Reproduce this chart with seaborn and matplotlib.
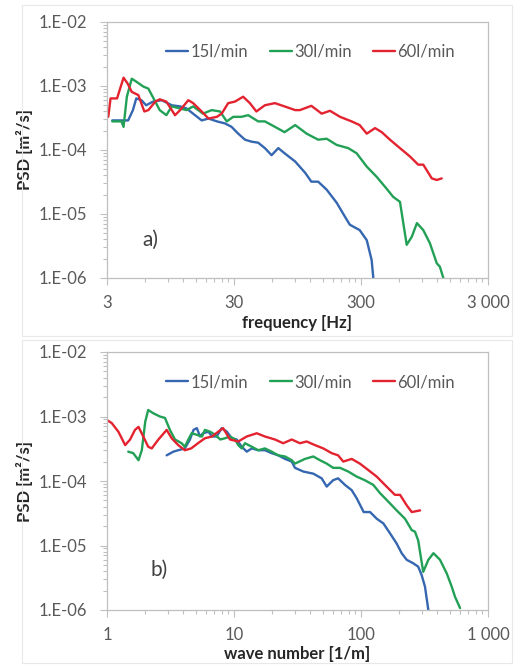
import numpy as np
import pandas as pd
import matplotlib
matplotlib.use("Agg")
import matplotlib.pyplot as plt
import matplotlib.ticker as mticker
from matplotlib.patches import Rectangle
import seaborn as sns

sns.set_theme(style="white")
plt.rcParams['font.family'] = ['Lato', 'DejaVu Sans']

# --------------------------- data ---------------------------
series = ["15l/min", "30l/min", "60l/min"]
colors = {"15l/min": "#3567B0", "30l/min": "#22A156", "60l/min": "#E3232F"}

# panel a) frequency [Hz]
f_a_15 = [3.3, 4.4, 4.8, 5.1, 5.6, 6.1, 6.9, 8.1, 9.7, 11.3, 12.7, 14.8, 16.7, 18.9, 22, 25.5, 28.7, 32.4,
          36.6, 41.2, 46.5, 52.5, 59.3, 67, 75, 91, 109, 122, 138, 161, 193, 224, 245, 293, 333, 364, 375]
psd_a_15 = [2.9e-4, 2.9e-4, 4.2e-4, 6.4e-4, 6.0e-4, 5.0e-4, 5.7e-4, 6.0e-4, 5.0e-4, 4.8e-4, 4.45e-4, 3.5e-4,
            2.9e-4, 3.1e-4, 2.8e-4, 2.6e-4, 2.3e-4, 1.8e-4, 1.45e-4, 1.35e-4, 1.3e-4, 1.07e-4, 8.3e-5, 1.07e-4,
            8.9e-5, 6.6e-5, 4.4e-5, 3.2e-5, 3.2e-5, 2.4e-5, 1.5e-5, 9.1e-6, 6.8e-6, 5.6e-6, 3.9e-6, 1.9e-6, 1.0e-6]

f_a_30 = [3.3, 3.9, 4.05, 4.3, 4.7, 5.1, 5.8, 6.35, 7.2, 7.8, 8.8, 9.7, 11.3, 12.7, 14.3, 17.1, 20, 23.3, 26.3,
          29.6, 34.4, 38.8, 46.5, 52.5, 63, 75, 91, 112, 138, 161, 193, 238, 277, 333, 399, 476, 538, 608, 687,
          753, 827, 928, 1046, 1185, 1254, 1335]
psd_a_30 = [2.8e-4, 2.8e-4, 2.3e-4, 6.8e-4, 1.3e-3, 1.17e-3, 9.8e-4, 9.1e-4, 5.7e-4, 4.2e-4, 3.5e-4, 4.8e-4,
            4.45e-4, 4.2e-4, 4.8e-4, 3.7e-4, 4.2e-4, 4.0e-4, 2.8e-4, 3.3e-4, 3.3e-4, 3.5e-4, 2.8e-4, 2.8e-4,
            2.3e-4, 1.9e-4, 2.45e-4, 1.8e-4, 1.45e-4, 1.5e-4, 1.2e-4, 1.07e-4, 8.9e-5, 5.5e-5, 3.8e-5, 2.5e-5,
            1.85e-5, 1.55e-5, 3.3e-6, 4.4e-6, 7.2e-6, 5.6e-6, 3.5e-6, 1.7e-6, 1.5e-6, 1.0e-6]

f_a_60 = [3.07, 3.2, 3.6, 4.05, 4.35, 4.7, 5.3, 5.9, 6.35, 7.2, 7.8, 8.8, 10.3, 11.3, 13.1, 14.3, 16.7, 18.9, 22,
          24, 27, 30.5, 35.4, 40, 45, 52.5, 63, 75, 91, 99, 122, 147, 171, 205, 253, 293, 333, 387, 437, 507,
          608, 730, 846, 928, 1083, 1185, 1296]
psd_a_60 = [3.3e-4, 6.4e-4, 6.4e-4, 1.35e-3, 1.1e-3, 8.1e-4, 7.2e-4, 4.0e-4, 4.2e-4, 5.7e-4, 6.2e-4, 5.7e-4,
            3.5e-4, 4.2e-4, 6.0e-4, 5.4e-4, 4.0e-4, 3.1e-4, 3.3e-4, 3.7e-4, 5.4e-4, 5.7e-4, 6.8e-4, 5.4e-4,
            4.0e-4, 5.0e-4, 5.4e-4, 4.8e-4, 4.2e-4, 4.2e-4, 4.9e-4, 3.7e-4, 4.1e-4, 3.3e-4, 2.8e-4, 2.45e-4,
            1.8e-4, 2.2e-4, 1.9e-4, 1.45e-4, 1.07e-4, 7.9e-5, 5.9e-5, 5.9e-5, 3.6e-5, 3.4e-5, 3.6e-5]

# panel b) wave number [1/m]
k_b_15 = [2.95, 3.33, 3.64, 4.1, 4.5, 4.8, 5.1, 5.4, 5.7, 6.3, 6.7, 7.3, 8.0, 8.8, 9.6, 10.5, 11.5, 12.6, 13.8,
          15.5, 17.5, 19.8, 22.3, 25.2, 28.5, 30.2, 35.2, 42.1, 49, 53.7, 60.4, 66, 74.8, 84.5, 92.5, 105, 118,
          133, 150, 169, 191, 209, 229, 258, 282, 300, 319, 339]
psd_b_15 = [2.5e-4, 2.85e-4, 3.0e-4, 3.2e-4, 4.4e-4, 6.2e-4, 6.6e-4, 4.9e-4, 5.5e-4, 5.8e-4, 4.9e-4, 4.9e-4,
            6.6e-4, 5.8e-4, 4.6e-4, 4.4e-4, 3.4e-4, 2.85e-4, 3.2e-4, 3.0e-4, 3.0e-4, 2.7e-4, 2.5e-4, 2.2e-4,
            2.0e-4, 1.6e-4, 1.4e-4, 1.3e-4, 1.1e-4, 8.2e-5, 1.03e-4, 1.1e-4, 8.7e-5, 7.2e-5, 5.4e-5, 3.3e-5,
            3.3e-5, 2.6e-5, 2.2e-5, 1.55e-5, 1.07e-5, 7.6e-6, 6.0e-6, 5.3e-6, 4.7e-6, 3.5e-6, 2.3e-6, 1.0e-6]

k_b_30 = [1.47, 1.61, 1.77, 1.88, 2.0, 2.11, 2.32, 2.61, 2.86, 3.13, 3.43, 3.87, 4.1, 4.37, 4.64, 5.1, 5.6, 5.9,
          6.5, 7.1, 7.8, 8.5, 9.3, 10.2, 10.8, 11.5, 12.2, 13.8, 15.5, 17.5, 19.8, 22.3, 25.2, 28.5, 30.2, 36.2,
          42.1, 47.5, 53.7, 60.4, 68.4, 79.4, 92.5, 107, 125, 141, 159, 191, 222, 251, 266, 282, 309, 339, 372,
          419, 473, 518, 550, 603]
psd_b_30 = [2.85e-4, 2.7e-4, 2.1e-4, 3.0e-4, 8.3e-4, 1.26e-3, 1.12e-3, 1.0e-3, 9.5e-4, 6.2e-4, 4.4e-4, 3.85e-4,
            3.4e-4, 4.4e-4, 5.5e-4, 5.2e-4, 4.9e-4, 6.2e-4, 5.8e-4, 5.2e-4, 4.4e-4, 4.6e-4, 4.9e-4, 4.4e-4,
            3.6e-4, 3.2e-4, 3.85e-4, 3.4e-4, 3.0e-4, 3.2e-4, 2.85e-4, 2.5e-4, 2.4e-4, 2.1e-4, 1.86e-4, 2.2e-4,
            2.4e-4, 2.1e-4, 1.86e-4, 1.6e-4, 1.6e-4, 1.4e-4, 1.17e-4, 1.03e-4, 8.7e-5, 6.5e-5, 5.1e-5, 3.5e-5,
            2.6e-5, 1.73e-5, 1.64e-5, 1.2e-5, 3.9e-6, 6.0e-6, 7.6e-6, 6.0e-6, 3.7e-6, 2.3e-6, 1.6e-6, 1.07e-6]

k_b_60 = [1.0, 1.09, 1.23, 1.39, 1.52, 1.66, 1.77, 1.93, 2.11, 2.25, 2.54, 2.95, 3.23, 3.64, 4.1, 4.6, 5.2, 5.9,
          6.7, 7.5, 8.2, 9.3, 10.8, 12.6, 15.1, 17.5, 21, 24.4, 28.5, 33, 37.3, 43.4, 50.5, 58.8, 66, 72.5, 84.5,
          98, 114, 133, 159, 185, 203, 229, 251, 292]
psd_b_60 = [8.8e-4, 7.9e-4, 5.8e-4, 3.6e-4, 4.4e-4, 6.2e-4, 6.9e-4, 4.9e-4, 3.4e-4, 3.2e-4, 4.4e-4, 6.2e-4,
            4.6e-4, 3.6e-4, 3.0e-4, 3.2e-4, 3.85e-4, 4.6e-4, 4.9e-4, 5.8e-4, 6.6e-4, 4.4e-4, 4.1e-4, 4.9e-4,
            5.5e-4, 4.9e-4, 4.4e-4, 3.85e-4, 4.4e-4, 3.85e-4, 4.1e-4, 3.6e-4, 3.2e-4, 2.7e-4, 2.5e-4, 2.0e-4,
            2.2e-4, 1.86e-4, 1.48e-4, 1.17e-4, 8.2e-5, 6.1e-5, 6.1e-5, 4.2e-5, 3.3e-5, 3.5e-5]

xticks_a = [3, 30, 300, 3000]
xticklabels_a = ["3", "30", "300", "3 000"]
xticks_b = [1, 10, 100, 1000]
xticklabels_b = ["1", "10", "100", "1 000"]
yticks = [1e-6, 1e-5, 1e-4, 1e-3, 1e-2]


def long_df(xs, ys, xname):
    parts = []
    for name, x, y in zip(series, xs, ys):
        parts.append(pd.DataFrame({xname: x, "PSD": y, "series": name}))
    return pd.concat(parts, ignore_index=True)


df_a = long_df([f_a_15, f_a_30, f_a_60], [psd_a_15, psd_a_30, psd_a_60], "x")
df_b = long_df([k_b_15, k_b_30, k_b_60], [psd_b_15, psd_b_30, psd_b_60], "x")

# --------------------------- figure ---------------------------
W, H = 520, 666
fig = plt.figure(figsize=(W / 100, H / 100), dpi=100)
fig.patch.set_facecolor("white")

# outer (faint) chart frames
for (x0, y0, x1, y1) in [(22, 5, 512, 336), (22, 340, 512, 663)]:
    fig.add_artist(Rectangle((x0 / W, 1 - y1 / H), (x1 - x0) / W, (y1 - y0) / H,
                             transform=fig.transFigure, fill=False, edgecolor="#E8E8E8", linewidth=0.8))

ax_a = fig.add_axes([107 / W, 1 - 278 / H, 381 / W, 256 / H])
ax_b = fig.add_axes([107 / W, 1 - 610 / H, 381 / W, 258 / H])

tick_color = "#595959"
frame_color = "#BFBFBF"
fs = 12

panels = [
    (ax_a, df_a, (3, 3000), xticks_a, xticklabels_a, "frequency [Hz]", "a)", (0.094, 0.148), -0.145),
    (ax_b, df_b, (1, 1000), xticks_b, xticklabels_b, "wave number [1/m]", "b)", (0.113, 0.155), -0.138),
]

for ax, df, xlim, xt, xtl, xlabel, tag, tagpos, xlab_y in panels:
    sns.lineplot(data=df, x="x", y="PSD", hue="series", hue_order=series, palette=colors,
                 estimator=None, sort=False, linewidth=1.7, ax=ax)
    ax.set_xscale("log")
    ax.set_yscale("log")
    ax.set_xlim(*xlim)
    ax.set_ylim(1e-6, 1e-2)

    ax.xaxis.set_major_locator(mticker.FixedLocator(xt))
    ax.xaxis.set_major_formatter(mticker.FixedFormatter(xtl))
    base = xlim[0]
    minors_x = [base * m * 10 ** d for d in range(0, 3) for m in range(2, 10)]
    ax.xaxis.set_minor_locator(mticker.FixedLocator(minors_x))
    ax.xaxis.set_minor_formatter(mticker.NullFormatter())

    ax.yaxis.set_major_locator(mticker.FixedLocator(yticks))
    ax.yaxis.set_major_formatter(mticker.FuncFormatter(
        lambda v, p: "1.E" + f"{int(round(np.log10(v))):+03d}"))
    minors_y = [m * 10.0 ** d for d in range(-6, -2) for m in range(2, 10)]
    ax.yaxis.set_minor_locator(mticker.FixedLocator(minors_y))
    ax.yaxis.set_minor_formatter(mticker.NullFormatter())

    ax.tick_params(axis="both", which="major", direction="out", length=5, width=0.8,
                   color=frame_color, labelcolor=tick_color, labelsize=fs)
    ax.tick_params(axis="both", which="minor", direction="out", length=3, width=0.8, color=frame_color)
    ax.tick_params(axis="x", which="major", pad=7)
    ax.tick_params(axis="y", which="major", pad=9)
    ax.tick_params(bottom=True, left=True, which="both")

    for sp in ax.spines.values():
        sp.set_visible(True)
        sp.set_color(frame_color)
        sp.set_linewidth(0.9)

    ax.set_xlabel(xlabel, fontsize=fs, fontweight="bold", color="#262626")
    ax.set_ylabel("PSD [m²/s]", fontsize=fs, fontweight="bold", color="#262626")
    ax.yaxis.set_label_coords(-0.195, 0.5)
    ax.xaxis.set_label_coords(0.5, xlab_y)

    ax.text(tagpos[0], tagpos[1], tag, transform=ax.transAxes, fontsize=15, color="#404040",
            ha="left", va="center")

    sns.move_legend(ax, "center left", bbox_to_anchor=(0.134, 0.883), ncol=3, frameon=False,
                    title=None, fontsize=fs, handlelength=1.3, handletextpad=0.15,
                    columnspacing=1.3, borderpad=0, labelcolor=tick_color)

fig.savefig("out.png", dpi=100, facecolor="white")
